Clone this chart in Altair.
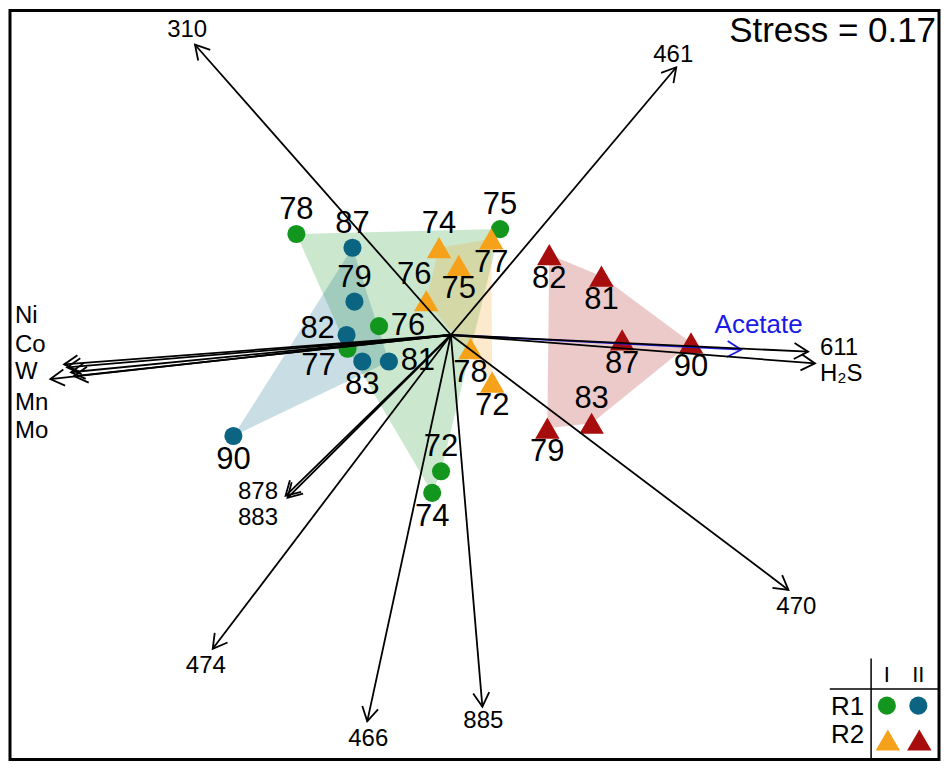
import math
import altair as alt
import pandas as pd

# ---------------- data (NMDS scores) ----------------
# R1 / period I  (green circles)
r1_i_ids = ["78", "75", "76", "77", "72", "74"]
r1_i_x = [-0.3925, 0.125, -0.1825, -0.2625, -0.025, -0.0475]
r1_i_y = [0.2575, 0.27, 0.0225, -0.035, -0.3475, -0.4025]
r1_i_pos = ["a", "a", "r", "bl", "a", "b"]
r1_i_hull = ["78", "75", "72", "74", "77"]

# R1 / period II  (blue circles)
r1_ii_ids = ["87", "79", "82", "83", "81", "90"]
r1_ii_x = [-0.25, -0.245, -0.265, -0.225, -0.1575, -0.5525]
r1_ii_y = [0.2225, 0.085, 0.0, -0.0675, -0.0675, -0.2575]
r1_ii_pos = ["a", "a", "l", "b", "r", "b"]
r1_ii_hull = ["87", "81", "90"]

# R2 / period I  (orange triangles)
r2_i_ids = ["74", "77", "75", "76", "78", "72"]
r2_i_x = [-0.03, 0.1025, 0.02, -0.0625, 0.05, 0.105]
r2_i_y = [0.2225, 0.245, 0.1775, 0.0875, -0.035, -0.12]
r2_i_pos = ["a", "b", "b", "al", "b", "b"]
r2_i_hull = ["74", "77", "72", "76"]

# R2 / period II  (red triangles)
r2_ii_ids = ["82", "81", "87", "90", "83", "79"]
r2_ii_x = [0.25, 0.3825, 0.435, 0.61, 0.3575, 0.245]
r2_ii_y = [0.205, 0.15, -0.0125, -0.02, -0.225, -0.2375]
r2_ii_pos = ["b", "b", "b", "b", "a", "b"]
r2_ii_hull = ["82", "81", "90", "83", "79"]

# Fitted vectors: tip coordinates and label anchors
vec_names = ["310", "461", "470", "885", "466", "474", "878", "883",
             "611", "H₂S", "Ni", "Co", "W", "Mn", "Mo"]
vec_x = [-0.65, 0.5725, 0.8575, 0.08, -0.2125, -0.605, -0.42, -0.415,
         0.9075, 0.925, -0.9825, -0.975, -1.0175, -0.965, -0.9575]
vec_y = [0.74, 0.6825, -0.65, -0.9475, -0.985, -0.80, -0.41, -0.415,
         -0.0425, -0.0725, -0.075, -0.0825, -0.1125, -0.095, -0.105]
lab_x = [-0.67, 0.565, 0.8775, 0.0825, -0.21, -0.6225, -0.49, -0.49,
         0.9375, 0.9375, -1.1075, -1.1075, -1.1075, -1.1075, -1.1075]
lab_y = [0.7775, 0.715, -0.6925, -0.985, -1.03, -0.845, -0.4, -0.467,
         -0.032, -0.1, 0.0475, -0.025, -0.095, -0.1725, -0.245]
lab_align = ["center"] * 8 + ["left"] * 7

acetate_x = [0.7375]
acetate_y = [-0.0375]
acetate_lab_x = [0.67]
acetate_lab_y = [0.025]

stress_text = "Stress = 0.17"

# ---------------- styling ----------------
W, H = 930, 750
XD = [-1.12, 1.24]
YD = [-1.0825, 0.8275]
FONT = "Liberation Sans"
grp_names = ["R1-I", "R1-II", "R2-I", "R2-II"]
grp_cols = ["#13961e", "#0b6482", "#f6a11a", "#a80d0d"]

xs = alt.Scale(domain=XD, nice=False, zero=False)
ys = alt.Scale(domain=YD, nice=False, zero=False)
col_scale = alt.Scale(domain=grp_names, range=grp_cols)


def vx(p):
    return (p - 2) * W / 944


def vy(p):
    return (p - 2) * H / 764


# ---------------- tables ----------------
groups = [
    ("R1-I", "R1", r1_i_ids, r1_i_x, r1_i_y, r1_i_pos, r1_i_hull),
    ("R1-II", "R1", r1_ii_ids, r1_ii_x, r1_ii_y, r1_ii_pos, r1_ii_hull),
    ("R2-I", "R2", r2_i_ids, r2_i_x, r2_i_y, r2_i_pos, r2_i_hull),
    ("R2-II", "R2", r2_ii_ids, r2_ii_x, r2_ii_y, r2_ii_pos, r2_ii_hull),
]
pts_rows, hull_rows = [], []
for g, rep, ids, gx, gy, gp, hull in groups:
    lookup = {}
    for i, x, y, p in zip(ids, gx, gy, gp):
        pts_rows.append(dict(grp=g, rep=rep, id=i, x=x, y=y, pos=p))
        lookup[i] = (x, y)
    for k, i in enumerate(hull):
        hull_rows.append(dict(grp=g, ord=k, x=lookup[i][0], y=lookup[i][1]))
pts = pd.DataFrame(pts_rows)
hulls = pd.DataFrame(hull_rows)


def ang(x, y):
    return (math.degrees(math.atan2(x, y)) + 360) % 360


vec = pd.DataFrame(dict(name=vec_names, x=vec_x, y=vec_y, lx=lab_x, ly=lab_y,
                        align=lab_align))
vec["x0"] = 0.0
vec["y0"] = 0.0
vec["angle"] = [ang(a, b) for a, b in zip(vec_x, vec_y)]

ace = pd.DataFrame(dict(name=["Acetate"], x=acetate_x, y=acetate_y,
                        lx=acetate_lab_x, ly=acetate_lab_y))
ace["x0"] = 0.0
ace["y0"] = 0.0
ace["angle"] = [ang(a, b) for a, b in zip(acetate_x, acetate_y)]

ARROW = "M -0.577 1 L 0 0 L 0.577 1"

# ---------------- layers ----------------
hull_layer = alt.Chart(hulls).mark_line(
    filled=True, fillOpacity=0.22, strokeOpacity=0, strokeWidth=0
).encode(
    x=alt.X("x:Q", scale=xs, axis=None),
    y=alt.Y("y:Q", scale=ys, axis=None),
    order="ord:Q",
    detail="grp:N",
    color=alt.Color("grp:N", scale=col_scale, legend=None),
)

point_layer = alt.Chart(pts).mark_point(filled=True, opacity=1).encode(
    x=alt.X("x:Q", scale=xs, axis=None),
    y=alt.Y("y:Q", scale=ys, axis=None),
    color=alt.Color("grp:N", scale=col_scale, legend=None),
    shape=alt.Shape("rep:N", scale=alt.Scale(domain=["R1", "R2"],
                                             range=["circle", "triangle-up"]),
                    legend=None),
    size=alt.Size("rep:N", scale=alt.Scale(domain=["R1", "R2"],
                                           range=[330, 600]), legend=None),
)

offsets = {"a": (0, -24), "b": (0, 24), "r": (29, 0), "l": (-29, -6),
           "bl": (-29, 17), "al": (-12, -26)}
label_layers = []
for code, (ddx, ddy) in offsets.items():
    label_layers.append(
        alt.Chart(pts).transform_filter(alt.datum.pos == code).mark_text(
            font=FONT, fontSize=31, color="black", dx=ddx, dy=ddy,
            baseline="middle", align="center"
        ).encode(
            x=alt.X("x:Q", scale=xs, axis=None),
            y=alt.Y("y:Q", scale=ys, axis=None),
            text="id:N",
        )
    )


def arrow_layers(df, color):
    line = alt.Chart(df).mark_rule(color=color, strokeWidth=1.8).encode(
        x=alt.X("x0:Q", scale=xs, axis=None),
        y=alt.Y("y0:Q", scale=ys, axis=None),
        x2="x:Q",
        y2="y:Q",
    )
    head = alt.Chart(df).mark_point(
        shape=ARROW, filled=False, color=color, strokeWidth=1.8, size=780,
        opacity=1
    ).encode(
        x=alt.X("x:Q", scale=xs, axis=None),
        y=alt.Y("y:Q", scale=ys, axis=None),
        angle=alt.Angle("angle:Q", scale=None),
    )
    return line, head


ace_line, ace_head = arrow_layers(ace, "#1a1ae6")
vec_line, vec_head = arrow_layers(vec, "black")

vec_lab_c = alt.Chart(vec).transform_filter(alt.datum.align == "center").mark_text(
    font=FONT, fontSize=24, color="black", align="center", baseline="middle"
).encode(x=alt.X("lx:Q", scale=xs, axis=None),
         y=alt.Y("ly:Q", scale=ys, axis=None), text="name:N")
vec_lab_l = alt.Chart(vec).transform_filter(alt.datum.align == "left").mark_text(
    font=FONT, fontSize=24, color="black", align="left", baseline="middle"
).encode(x=alt.X("lx:Q", scale=xs, axis=None),
         y=alt.Y("ly:Q", scale=ys, axis=None), text="name:N")
ace_lab = alt.Chart(ace).mark_text(
    font=FONT, fontSize=26, color="#1a1ae6", align="left", baseline="middle"
).encode(x=alt.X("lx:Q", scale=xs, axis=None),
         y=alt.Y("ly:Q", scale=ys, axis=None), text="name:N")

one = pd.DataFrame({"k": [0]})
stress = alt.Chart(one).mark_text(
    font=FONT, fontSize=35, color="black", align="right", baseline="middle",
    text=stress_text
).encode(x=alt.value(vx(943)), y=alt.value(vy(23)))

# ---------------- legend table (bottom right) ----------------
leg_h = alt.Chart(one).mark_rule(color="black", strokeWidth=1.5).encode(
    x=alt.value(vx(835)), x2=alt.value(W), y=alt.value(vy(694)),
    y2=alt.value(vy(694)))
leg_v = alt.Chart(one).mark_rule(color="black", strokeWidth=1.5).encode(
    x=alt.value(vx(877)), x2=alt.value(vx(877)), y=alt.value(vy(663)),
    y2=alt.value(H))
leg_txt = []
for t, px, py, fs in [("I", 893, 680, 22), ("II", 925, 680, 22),
                      ("R1", 853, 712, 26), ("R2", 853, 741, 26)]:
    leg_txt.append(alt.Chart(one).mark_text(
        font=FONT, fontSize=fs, color="black", align="center",
        baseline="middle", text=t).encode(x=alt.value(vx(px)),
                                            y=alt.value(vy(py))))
leg_sym = []
for shp, sz, c, px, py in [("circle", 330, grp_cols[0], 893, 711),
                           ("circle", 330, grp_cols[1], 925, 711),
                           ("triangle-up", 600, grp_cols[2], 894, 746),
                           ("triangle-up", 600, grp_cols[3], 926, 746)]:
    leg_sym.append(alt.Chart(one).mark_point(
        shape=shp, size=sz, filled=True, color=c, opacity=1).encode(
        x=alt.value(vx(px)), y=alt.value(vy(py))))

chart = alt.layer(
    hull_layer, point_layer, ace_line, ace_head, vec_line, vec_head,
    *label_layers, vec_lab_c, vec_lab_l, ace_lab, stress,
    leg_h, leg_v, *leg_txt, *leg_sym
).properties(
    width=W, height=H, padding=2, background="white"
).configure_view(stroke="black", strokeWidth=3)

chart.save("out.html", embed_options={"renderer": "svg", "actions": False})
